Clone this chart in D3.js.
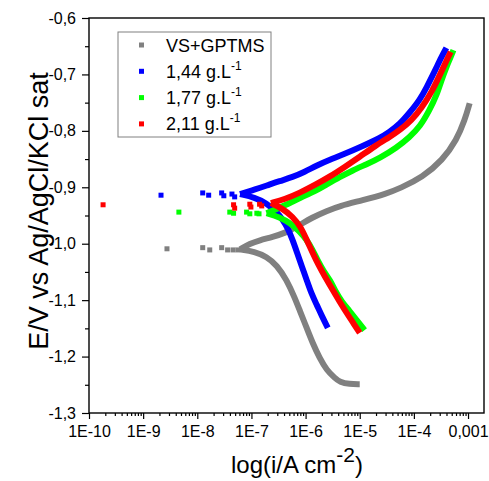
<!DOCTYPE html>
<html>
<head>
<meta charset="utf-8">
<script src="https://cdn.jsdelivr.net/npm/d3@7"></script>
<style>
    body { margin: 0; background: #fff; }
    svg { display: block; font-family: "Liberation Sans", Arial, sans-serif; }
</style>
</head>
<body>
<svg id="chart" width="489" height="481"></svg>
<script>
// log10(i / A cm-2) and E (V) pairs
var seriesNames = ["VS+GPTMS", "1,44 g.L", "1,77 g.L", "2,11 g.L"];
var seriesSup = ["", "-1", "-1", "-1"];

var greyScatter = [[-8.56, -1.009], [-7.90, -1.007], [-7.77, -1.011], [-7.55, -1.007], [-7.44, -1.011], [-7.34, -1.011], [-7.25, -1.011]];
var greyAnodic = [[-7.21, -1.010], [-7.03, -1.000], [-6.85, -0.994], [-6.61, -0.988], [-6.38, -0.981], [-6.16, -0.970], [-5.87, -0.953], [-5.61, -0.942], [-5.37, -0.933], [-4.95, -0.923], [-4.50, -0.911], [-4.26, -0.902], [-3.84, -0.882], [-3.47, -0.852], [-3.21, -0.816], [-3.06, -0.781], [-2.97, -0.751]];
var greyCathodic = [[-7.21, -1.010], [-6.94, -1.014], [-6.72, -1.023], [-6.53, -1.038], [-6.35, -1.064], [-6.20, -1.096], [-6.11, -1.118], [-5.98, -1.149], [-5.87, -1.176], [-5.74, -1.203], [-5.61, -1.224], [-5.46, -1.238], [-5.37, -1.245], [-5.19, -1.249], [-5.00, -1.249]];

var blueScatter = [[-8.67, -0.914], [-7.90, -0.910], [-7.79, -0.914], [-7.55, -0.910], [-7.51, -0.915], [-7.36, -0.912], [-7.31, -0.917]];
var blueAnodic = [[-7.21, -0.912], [-6.94, -0.904], [-6.72, -0.897], [-6.48, -0.889], [-6.24, -0.882], [-6.02, -0.873], [-5.79, -0.861], [-5.55, -0.851], [-5.31, -0.842], [-4.95, -0.827], [-4.63, -0.813], [-4.45, -0.802], [-4.26, -0.788], [-4.08, -0.768], [-3.89, -0.745], [-3.76, -0.722], [-3.65, -0.701], [-3.58, -0.687], [-3.49, -0.669], [-3.40, -0.653]];
var blueCathodic = [[-7.21, -0.912], [-6.94, -0.918], [-6.72, -0.928], [-6.53, -0.944], [-6.42, -0.958], [-6.33, -0.972], [-6.24, -0.993], [-6.16, -1.015], [-6.07, -1.040], [-5.98, -1.064], [-5.89, -1.089], [-5.79, -1.109], [-5.70, -1.128], [-5.59, -1.149]];

var greenScatter = [[-8.34, -0.944], [-7.40, -0.944], [-7.33, -0.946], [-7.09, -0.944], [-7.03, -0.947], [-6.90, -0.946], [-6.86, -0.947]];
var greenAnodic = [[-6.72, -0.946], [-6.48, -0.936], [-6.29, -0.928], [-6.11, -0.919], [-5.83, -0.907], [-5.61, -0.895], [-5.37, -0.882], [-5.13, -0.870], [-4.87, -0.859], [-4.63, -0.848], [-4.32, -0.830], [-4.08, -0.811], [-3.89, -0.793], [-3.71, -0.763], [-3.58, -0.737], [-3.49, -0.710], [-3.40, -0.687], [-3.32, -0.669], [-3.27, -0.657]];
var greenCathodic = [[-6.72, -0.946], [-6.48, -0.953], [-6.29, -0.963], [-6.11, -0.978], [-5.98, -0.993], [-5.87, -1.011], [-5.78, -1.029], [-5.66, -1.050], [-5.55, -1.064], [-5.44, -1.086], [-5.33, -1.103], [-5.19, -1.119], [-5.06, -1.135], [-4.91, -1.153]];

var redScatter = [[-9.74, -0.931], [-7.33, -0.931], [-7.31, -0.937], [-7.03, -0.930], [-7.01, -0.935], [-6.85, -0.930], [-6.81, -0.933]];
var redAnodic = [[-6.64, -0.928], [-6.38, -0.921], [-6.11, -0.910], [-5.83, -0.896], [-5.55, -0.881], [-5.28, -0.864], [-5.00, -0.846], [-4.72, -0.827], [-4.45, -0.811], [-4.26, -0.799], [-4.04, -0.781], [-3.86, -0.760], [-3.67, -0.731], [-3.52, -0.701], [-3.41, -0.678], [-3.32, -0.660]];
var redCathodic = [[-6.64, -0.928], [-6.42, -0.938], [-6.24, -0.952], [-6.09, -0.970], [-5.98, -0.993], [-5.87, -1.016], [-5.76, -1.038], [-5.65, -1.057], [-5.50, -1.082], [-5.37, -1.103], [-5.24, -1.123], [-5.13, -1.139], [-5.00, -1.158]];

var xMajor = [1e-10, 1e-9, 1e-8, 1e-7, 1e-6, 1e-5, 1e-4, 1e-3];
var xTickLabels = ["1E-10", "1E-9", "1E-8", "1E-7", "1E-6", "1E-5", "1E-4", "0,001"];
var yMajor = [-0.6, -0.7, -0.8, -0.9, -1.0, -1.1, -1.2, -1.3];
var yTickLabels = ["-0,6", "-0,7", "-0,8", "-0,9", "-1,0", "-1,1", "-1,2", "-1,3"];

var colors = ["#808080", "#0000ff", "#00ff00", "#ff0000"];
var series = [
    { scatter: greyScatter, anodic: greyAnodic, cathodic: greyCathodic },
    { scatter: blueScatter, anodic: blueAnodic, cathodic: blueCathodic },
    { scatter: greenScatter, anodic: greenAnodic, cathodic: greenCathodic },
    { scatter: redScatter, anodic: redAnodic, cathodic: redCathodic }
];

drawChart();

function drawChart() {
    var margin = { left: 89, right: 484, top: 18, bottom: 413 };

    var x = d3.scaleLog()
        .domain([1e-10, Math.pow(10, -2.705)])
        .range([margin.left, margin.right]);

    var y = d3.scaleLinear()
        .domain([-1.3, -0.6])
        .range([margin.bottom, margin.top]);

    var svg = d3.select("#chart");
    var plot = svg.append("g");

    var line = d3.line()
        .x(function (d) { return x(Math.pow(10, d[0])); })
        .y(function (d) { return y(d[1]); })
        .curve(d3.curveBasis);

    series.forEach(function (s, i) {
        var g = plot.append("g");
        [s.anodic, s.cathodic].forEach(function (branch) {
            g.append("path")
                .attr("d", line(branch))
                .attr("fill", "none")
                .attr("stroke", colors[i])
                .attr("stroke-width", 6)
                .attr("stroke-linejoin", "round");
        });
        g.selectAll("rect")
            .data(s.scatter)
            .enter().append("rect")
            .attr("x", function (d) { return x(Math.pow(10, d[0])) - 2.5; })
            .attr("y", function (d) { return y(d[1]) - 2.5; })
            .attr("width", 5)
            .attr("height", 5)
            .attr("fill", colors[i]);
    });

    // minor ticks
    var xMinor = [];
    for (var e = -10; e <= -3; e++) {
        for (var k = 2; k <= 9; k++) {
            var v = k * Math.pow(10, e);
            if (v < x.domain()[1]) xMinor.push(v);
        }
    }
    var yMinor = [-0.65, -0.75, -0.85, -0.95, -1.05, -1.15, -1.25];

    svg.append("g")
        .attr("transform", "translate(0," + margin.bottom + ")")
        .call(d3.axisBottom(x).tickValues(xMajor).tickSize(6).tickPadding(7)
            .tickFormat(function (d, i) { return xTickLabels[i]; }));
    svg.append("g")
        .attr("transform", "translate(0," + margin.bottom + ")")
        .call(d3.axisBottom(x).tickValues(xMinor).tickSize(3).tickFormat(""));

    svg.append("g")
        .attr("transform", "translate(" + margin.left + ",0)")
        .call(d3.axisLeft(y).tickValues(yMajor).tickSize(7).tickPadding(6)
            .tickFormat(function (d, i) { return yTickLabels[i]; }));
    svg.append("g")
        .attr("transform", "translate(" + margin.left + ",0)")
        .call(d3.axisLeft(y).tickValues(yMinor).tickSize(4).tickFormat(""));

    svg.selectAll(".domain").remove();
    svg.selectAll(".tick line").attr("stroke", "#000").attr("stroke-width", 1.2);
    svg.selectAll(".tick text")
        .style("font-size", "16px")
        .style("font-family", "'Liberation Sans', Arial, sans-serif")
        .attr("fill", "#000");

    // frame
    svg.append("rect")
        .attr("x", margin.left)
        .attr("y", margin.top)
        .attr("width", margin.right - margin.left)
        .attr("height", margin.bottom - margin.top)
        .attr("fill", "none")
        .attr("stroke", "#000")
        .attr("stroke-width", 1.4);

    // legend
    var legend = svg.append("g");
    legend.append("rect")
        .attr("x", 118).attr("y", 32)
        .attr("width", 153).attr("height", 105)
        .attr("fill", "#fff")
        .attr("stroke", "#808080")
        .attr("stroke-width", 1);

    seriesNames.forEach(function (name, i) {
        var ly = 45 + i * 26.3;
        legend.append("rect")
            .attr("x", 139).attr("y", ly - 2.5)
            .attr("width", 5).attr("height", 5)
            .attr("fill", colors[i]);
        var t = legend.append("text")
            .attr("x", 166).attr("y", ly + 6.5)
            .style("font-size", "18px")
            .text(name);
        if (seriesSup[i]) {
            t.append("tspan")
                .attr("dy", -8)
                .style("font-size", "12px")
                .text(seriesSup[i]);
        }
    });

    // axis titles
    var xt = svg.append("text")
        .attr("x", 297).attr("y", 473)
        .attr("text-anchor", "middle")
        .style("font-size", "24px")
        .text("log(i/A cm");
    xt.append("tspan").attr("dy", -11).style("font-size", "21px").text("-2");
    xt.append("tspan").attr("dy", 11).text(")");

    svg.append("text")
        .attr("transform", "translate(48,211) rotate(-90)")
        .attr("text-anchor", "middle")
        .style("font-size", "27px")
        .text("E/V vs Ag/AgCl/KCl sat");
}
</script>
</body>
</html>
